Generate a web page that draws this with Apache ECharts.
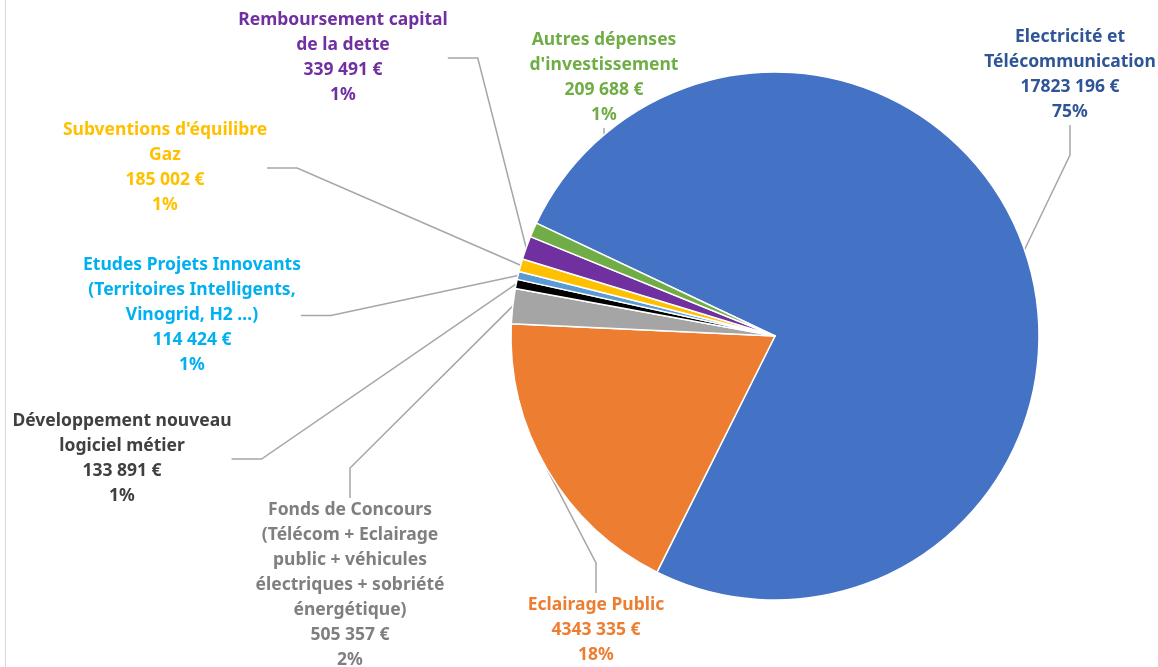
<!DOCTYPE html>
<html>
<head>
<meta charset="utf-8">
<script src="https://cdn.jsdelivr.net/npm/echarts@6/dist/echarts.min.js"></script>
<style>
    html, body { margin: 0; padding: 0; background: #fff; }
    #chart { width: 1158px; height: 667px; }
</style>
</head>
<body>
<div id="chart"></div>
<script>
'use strict'

const names = [
    'Electricité et\nTélécommunication',
    'Eclairage Public',
    'Fonds de Concours\n(Télécom + Eclairage\npublic + véhicules\nélectriques + sobriété\nénergétique)',
    'Développement nouveau\nlogiciel métier',
    'Etudes Projets Innovants\n(Territoires Intelligents,\nVinogrid, H2 …)',
    'Subventions d\'équilibre\nGaz',
    'Remboursement capital\nde la dette',
    'Autres dépenses\nd\'investissement'
]
const values = [17823196, 4343335, 505357, 133891, 114424, 185002, 339491, 209688]

const sliceColors = ['#4472C4', '#ED7D31', '#A5A5A5', '#000000', '#5B9BD5', '#FFC000', '#7030A0', '#70AD47']
const textColors = ['#2F5597', '#ED7D31', '#7F7F7F', '#404040', '#00B0F0', '#FFC000', '#7030A0', '#70AD47']

// label block placement: [centre x, top y]
const labelPos = [
    [1070, 25], [596, 593], [350, 498], [122, 409],
    [192, 253], [165, 118], [343, 8], [604, 28]
]

function fmtEuro(v) {
    const s = String(v)
    return s.slice(0, -3) + ' ' + s.slice(-3) + ' €'
}

let myChart = echarts.init(document.getElementById('chart'))
myChart.setOption({
    animation: false,
    graphic: [{
        type: 'line',
        shape: { x1: 5.5, y1: 0, x2: 5.5, y2: 667 },
        style: { stroke: '#D9D9D9', lineWidth: 1 }
    }],
    series: [{
        type: 'pie',
        center: [775, 336],
        radius: 264,
        startAngle: 154.7,
        clockwise: true,
        percentPrecision: 0,
        itemStyle: {
            borderColor: '#fff',
            borderWidth: 1.5
        },
        label: {
            show: true,
            position: 'outside',
            fontFamily: 'Noto Sans',
            fontWeight: 'bold',
            fontSize: 17.5,
            lineHeight: 25,
            align: 'center',
            overflow: 'none',
            formatter: (p) => `${p.name}\n${fmtEuro(p.value)}\n${p.percent}%`
        },
        labelLine: {
            show: true,
            lineStyle: { color: '#A6A6A6', width: 1.5 }
        },
        labelLayout: (params) => {
            const pos = labelPos[params.dataIndex]
            return {
                x: pos[0],
                y: pos[1],
                align: 'center',
                verticalAlign: 'top'
            }
        },
        data: names.map((n, k) => ({
            name: n,
            value: values[k],
            itemStyle: { color: sliceColors[k] },
            label: { color: textColors[k] }
        }))
    }]
})
</script>
</body>
</html>
